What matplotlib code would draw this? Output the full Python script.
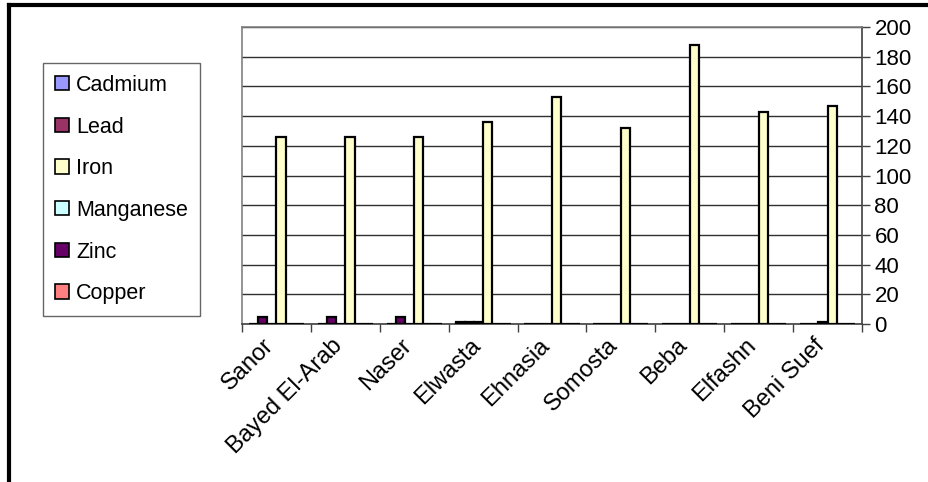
import numpy as np
import matplotlib.pyplot as plt
from matplotlib.patches import Patch
from matplotlib.lines import Line2D

plt.rcParams['font.family'] = ['Liberation Sans', 'DejaVu Sans']

# Metal concentrations per site
sites = ['Sanor', 'Bayed El-Arab', 'Naser', 'Elwasta', 'Ehnasia',
         'Somosta', 'Beba', 'Elfashn', 'Beni Suef']
cadmium = [0, 0, 0, 0, 0, 0, 0, 0, 0]
lead = [0, 0, 0, 0, 0, 0, 0, 0, 0]
iron = [126, 126, 126, 136, 153, 132, 188, 143, 147]
manganese = [0, 0, 0, 1.5, 0, 0, 0, 0, 1.5]
zinc = [5, 5, 5, 1.5, 0, 0, 0, 0, 0]
copper = [0, 0, 0, 1.5, 0, 0, 0, 0, 0]

names = ['Cadmium', 'Lead', 'Iron', 'Manganese', 'Zinc', 'Copper']
series = [cadmium, lead, iron, manganese, zinc, copper]
colors = ['#9999FF', '#993366', '#FFFFCC', '#CCFFFF', '#660066', '#FF8080']

fig = plt.figure(figsize=(9.29, 4.82), dpi=100)
ax = fig.add_axes([242/929, 1 - 324/482, 620/929, 297/482])

x = np.arange(len(sites))
w = 1 / 7.5
# series are drawn in reverse order inside each cluster
for k, (vals, c) in enumerate(zip(series[::-1], colors[::-1])):
    off = (k - 2.5) * w
    ax.bar(x + 0.5 + off, vals, width=w, color=c, edgecolor='black',
           linewidth=1.6, zorder=3)

ax.set_xlim(0, len(sites))
ax.set_ylim(0, 200)
ax.yaxis.tick_right()
ax.set_yticks(range(0, 201, 20))
ax.tick_params(axis='y', direction='out', length=6, width=1, color='#404040',
               labelsize=16, pad=3)
ax.grid(axis='y', color='#303030', linewidth=1, zorder=1)

ax.set_xticks(range(len(sites) + 1))
ax.set_xticklabels([])
ax.tick_params(axis='x', direction='out', length=6, width=1, color='#404040')
for i, s in enumerate(sites):
    ax.text(i + 0.3, -7, s, rotation=45, rotation_mode='anchor',
            ha='right', va='top', fontsize=17, transform=ax.transData)

ax.spines['top'].set_color('#808080')
ax.spines['left'].set_color('#808080')
ax.spines['right'].set_color('#404040')
ax.spines['bottom'].set_color('#404040')
for sp in ax.spines.values():
    sp.set_linewidth(1.2)

handles = [Patch(facecolor=c, edgecolor='black', linewidth=1.2) for c in colors]
leg = fig.legend(handles, names, loc='upper left',
                 bbox_to_anchor=(43/929, 1 - 63/482), fontsize=15.5,
                 frameon=True, fancybox=False, handlelength=0.65,
                 handleheight=0.65, handletextpad=0.35, labelspacing=0.96,
                 borderpad=0.55, borderaxespad=0)
leg.get_frame().set_edgecolor('#404040')
leg.get_frame().set_linewidth(1)

# outer frame lines
fig.add_artist(Line2D([9/929, 1], [1 - 5/482, 1 - 5/482], color='black', lw=3))
fig.add_artist(Line2D([9/929, 9/929], [0, 1 - 5/482], color='black', lw=3))

fig.savefig('out.png', dpi=100)
